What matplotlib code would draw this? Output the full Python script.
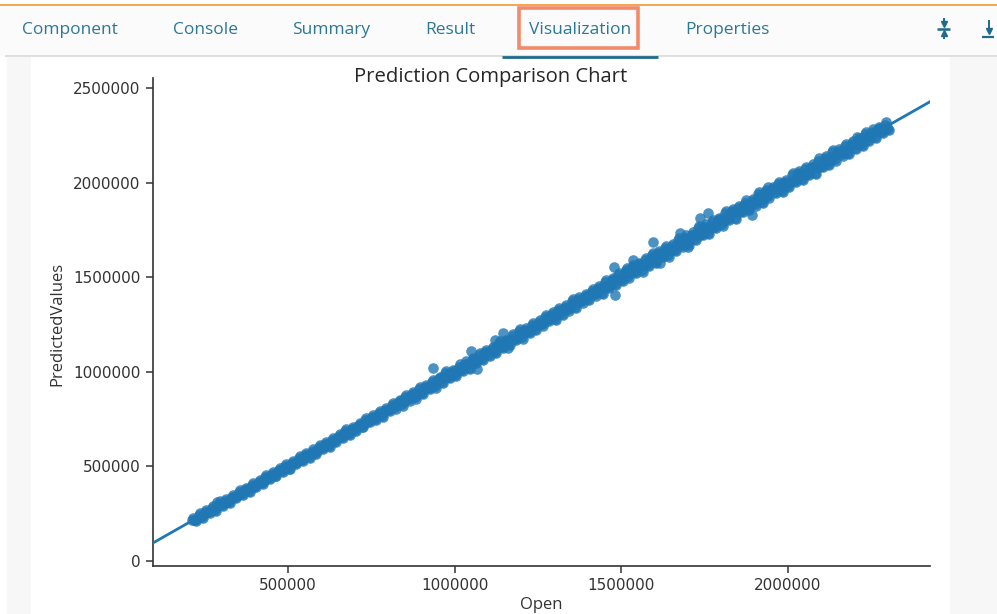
import numpy as np
import matplotlib
matplotlib.use("Agg")
import matplotlib.pyplot as plt
from matplotlib.patches import Rectangle
from matplotlib.lines import Line2D

# ---- data: Open price vs. model prediction -------------------------------
upper_open = [212000, 232000, 252000, 272000, 292000, 312000, 332000, 352000, 372000, 392000,
              412000, 432000, 452000, 472000, 492000, 512000, 532000, 552000, 572000, 592000,
              612000, 632000, 652000, 672000, 692000, 712000, 732000, 752000, 772000, 792000,
              812000, 832000, 852000, 872000, 892000, 912000, 932000, 952000, 972000, 992000,
              1012000, 1032000, 1052000, 1072000, 1092000, 1112000, 1132000, 1152000, 1172000, 1192000,
              1212000, 1232000, 1252000, 1272000, 1292000, 1312000, 1332000, 1352000, 1372000, 1392000,
              1412000, 1432000, 1452000, 1472000, 1492000, 1512000, 1532000, 1552000, 1572000, 1592000,
              1612000, 1632000, 1652000, 1672000, 1692000, 1712000, 1732000, 1752000, 1772000, 1792000,
              1812000, 1832000, 1852000, 1872000, 1892000, 1912000, 1932000, 1952000, 1972000, 1992000,
              2012000, 2032000, 2052000, 2072000, 2092000, 2112000, 2132000, 2152000, 2172000, 2192000,
              2212000, 2232000, 2252000, 2272000, 2292000]
upper_pred = [219000, 242000, 257000, 281000, 304000, 318000, 340000, 363000, 376000, 401000,
              419000, 445000, 458000, 482000, 500000, 517000, 543000, 561000, 579000, 604000,
              618000, 642000, 660000, 685000, 697000, 721000, 743000, 759000, 782000, 798000,
              824000, 840000, 867000, 882000, 910000, 921000, 946000, 963000, 992000, 999000,
              1028000, 1044000, 1061000, 1089000, 1105000, 1122000, 1151000, 1160000, 1187000, 1214000,
              1223000, 1246000, 1261000, 1290000, 1304000, 1328000, 1342000, 1373000, 1385000, 1400000,
              1429000, 1443000, 1476000, 1486000, 1511000, 1527000, 1554000, 1564000, 1590000, 1618000,
              1626000, 1652000, 1663000, 1696000, 1709000, 1725000, 1760000, 1768000, 1793000, 1802000,
              1837000, 1850000, 1866000, 1895000, 1904000, 1939000, 1951000, 1967000, 1994000, 2003000,
              2038000, 2049000, 2072000, 2085000, 2116000, 2128000, 2161000, 2164000, 2193000, 2210000,
              2226000, 2255000, 2269000, 2282000, 2307000]

lower_open = [222000, 242000, 262000, 282000, 302000, 322000, 342000, 362000, 382000, 402000,
              422000, 442000, 462000, 482000, 502000, 522000, 542000, 562000, 582000, 602000,
              622000, 642000, 662000, 682000, 702000, 722000, 742000, 762000, 782000, 802000,
              822000, 842000, 862000, 882000, 902000, 922000, 942000, 962000, 982000, 1002000,
              1022000, 1042000, 1062000, 1082000, 1102000, 1122000, 1142000, 1162000, 1182000, 1202000,
              1222000, 1242000, 1262000, 1282000, 1302000, 1322000, 1342000, 1362000, 1382000, 1402000,
              1422000, 1442000, 1462000, 1482000, 1502000, 1522000, 1542000, 1562000, 1582000, 1602000,
              1622000, 1642000, 1662000, 1682000, 1702000, 1722000, 1742000, 1762000, 1782000, 1802000,
              1822000, 1842000, 1862000, 1882000, 1902000, 1922000, 1942000, 1962000, 1982000, 2002000,
              2022000, 2042000, 2062000, 2082000, 2102000, 2122000, 2142000, 2162000, 2182000, 2202000,
              2222000, 2242000, 2262000, 2282000, 2302000]
lower_pred = [216000, 233000, 258000, 271000, 295000, 312000, 337000, 354000, 370000, 396000,
              413000, 438000, 452000, 474000, 489000, 517000, 535000, 551000, 573000, 596000,
              610000, 634000, 657000, 672000, 695000, 711000, 738000, 753000, 769000, 796000,
              812000, 828000, 854000, 865000, 890000, 913000, 923000, 949000, 975000, 986000,
              1011000, 1021000, 1053000, 1067000, 1090000, 1104000, 1132000, 1148000, 1174000, 1182000,
              1209000, 1225000, 1251000, 1273000, 1280000, 1307000, 1330000, 1344000, 1372000, 1386000,
              1409000, 1418000, 1451000, 1463000, 1488000, 1504000, 1530000, 1537000, 1567000, 1581000,
              1612000, 1615000, 1645000, 1669000, 1679000, 1703000, 1731000, 1736000, 1766000, 1780000,
              1808000, 1814000, 1850000, 1862000, 1885000, 1898000, 1927000, 1951000, 1957000, 1983000,
              2009000, 2020000, 2046000, 2053000, 2088000, 2101000, 2124000, 2150000, 2156000, 2185000,
              2199000, 2227000, 2242000, 2269000, 2286000]

middle_open = [217000, 237000, 257000, 277000, 297000, 317000, 337000, 357000, 377000, 397000,
               417000, 437000, 457000, 477000, 497000, 517000, 537000, 557000, 577000, 597000,
               617000, 637000, 657000, 677000, 697000, 717000, 737000, 757000, 777000, 797000,
               817000, 837000, 857000, 877000, 897000, 917000, 937000, 957000, 977000, 997000,
               1017000, 1037000, 1057000, 1077000, 1097000, 1117000, 1137000, 1157000, 1177000, 1197000,
               1217000, 1237000, 1257000, 1277000, 1297000, 1317000, 1337000, 1357000, 1377000, 1397000,
               1417000, 1437000, 1457000, 1477000, 1497000, 1517000, 1537000, 1557000, 1577000, 1597000,
               1617000, 1637000, 1657000, 1677000, 1697000, 1717000, 1737000, 1757000, 1777000, 1797000,
               1817000, 1837000, 1857000, 1877000, 1897000, 1917000, 1937000, 1957000, 1977000, 1997000,
               2017000, 2037000, 2057000, 2077000, 2097000, 2117000, 2137000, 2157000, 2177000, 2197000,
               2217000, 2237000, 2257000, 2277000, 2297000]
middle_pred = [219000, 234000, 261000, 276000, 300000, 313000, 338000, 355000, 382000, 394000,
               417000, 440000, 455000, 481000, 496000, 519000, 533000, 558000, 580000, 595000,
               621000, 634000, 657000, 679000, 696000, 720000, 733000, 758000, 775000, 801000,
               812000, 844000, 855000, 883000, 889000, 920000, 931000, 966000, 974000, 1002000,
               1010000, 1039000, 1065000, 1073000, 1103000, 1108000, 1138000, 1164000, 1172000, 1201000,
               1215000, 1245000, 1251000, 1280000, 1289000, 1322000, 1336000, 1366000, 1373000, 1403000,
               1410000, 1439000, 1454000, 1485000, 1492000, 1526000, 1531000, 1569000, 1574000, 1605000,
               1606000, 1642000, 1649000, 1687000, 1695000, 1724000, 1725000, 1761000, 1768000, 1808000,
               1812000, 1843000, 1847000, 1880000, 1890000, 1929000, 1933000, 1966000, 1966000, 1999000,
               2011000, 2047000, 2049000, 2082000, 2085000, 2124000, 2134000, 2168000, 2168000, 2201000,
               2211000, 2245000, 2255000, 2287000, 2292000]

inner_open = [227000, 247000, 267000, 287000, 307000, 327000, 347000, 367000, 387000, 407000,
              427000, 447000, 467000, 487000, 507000, 527000, 547000, 567000, 587000, 607000,
              627000, 647000, 667000, 687000, 707000, 727000, 747000, 767000, 787000, 807000,
              827000, 847000, 867000, 887000, 907000, 927000, 947000, 967000, 987000, 1007000,
              1027000, 1047000, 1067000, 1087000, 1107000, 1127000, 1147000, 1167000, 1187000, 1207000,
              1227000, 1247000, 1267000, 1287000, 1307000, 1327000, 1347000, 1367000, 1387000, 1407000,
              1427000, 1447000, 1467000, 1487000, 1507000, 1527000, 1547000, 1567000, 1587000, 1607000,
              1627000, 1647000, 1667000, 1687000, 1707000, 1727000, 1747000, 1767000, 1787000, 1807000,
              1827000, 1847000, 1867000, 1887000, 1907000, 1927000, 1947000, 1967000, 1987000, 2007000,
              2027000, 2047000, 2067000, 2087000, 2107000, 2127000, 2147000, 2167000, 2187000, 2207000,
              2227000, 2247000, 2267000, 2287000]
inner_pred = [224000, 249000, 266000, 291000, 305000, 328000, 343000, 370000, 386000, 409000,
              424000, 447000, 471000, 485000, 508000, 524000, 549000, 566000, 583000, 610000,
              625000, 648000, 671000, 684000, 709000, 726000, 750000, 765000, 788000, 804000,
              833000, 843000, 875000, 880000, 910000, 922000, 956000, 965000, 994000, 1001000,
              1031000, 1039000, 1068000, 1092000, 1104000, 1135000, 1141000, 1169000, 1178000, 1213000,
              1223000, 1250000, 1260000, 1296000, 1306000, 1332000, 1339000, 1371000, 1385000, 1414000,
              1422000, 1450000, 1458000, 1493000, 1504000, 1520000, 1557000, 1563000, 1595000, 1595000,
              1633000, 1638000, 1670000, 1676000, 1714000, 1722000, 1759000, 1759000, 1791000, 1797000,
              1836000, 1844000, 1878000, 1881000, 1912000, 1915000, 1955000, 1965000, 1997000, 2000000,
              2031000, 2038000, 2079000, 2082000, 2113000, 2116000, 2150000, 2159000, 2196000, 2203000,
              2238000, 2241000, 2274000, 2277000]

high_edge_open = [215000, 235000, 255000, 275000, 295000, 315000, 335000, 355000, 375000, 395000,
                  415000, 435000, 455000, 475000, 495000, 515000, 535000, 555000, 575000, 595000,
                  615000, 635000, 655000, 675000, 695000, 715000, 735000, 755000, 775000, 795000,
                  815000, 835000, 855000, 875000, 895000, 915000, 935000, 955000, 975000, 995000,
                  1015000, 1035000, 1055000, 1075000, 1095000, 1115000, 1135000, 1155000, 1175000, 1195000,
                  1215000, 1235000, 1255000, 1275000, 1295000, 1315000, 1335000, 1355000, 1375000, 1395000,
                  1415000, 1435000, 1455000, 1475000, 1495000, 1515000, 1535000, 1555000, 1575000, 1595000,
                  1615000, 1635000, 1655000, 1675000, 1695000, 1715000, 1735000, 1755000, 1775000, 1795000,
                  1815000, 1835000, 1855000, 1875000, 1895000, 1915000, 1935000, 1955000, 1975000, 1995000,
                  2015000, 2035000, 2055000, 2075000, 2095000, 2115000, 2135000, 2155000, 2175000, 2195000,
                  2215000, 2235000, 2255000, 2275000, 2295000]
high_edge_pred = [230000, 253000, 268000, 292000, 315000, 329000, 351000, 374000, 387000, 412000,
                  430000, 456000, 469000, 493000, 511000, 528000, 554000, 572000, 590000, 615000,
                  629000, 653000, 671000, 696000, 708000, 732000, 754000, 770000, 793000, 809000,
                  835000, 851000, 879000, 893000, 922000, 932000, 957000, 974000, 1003000, 1010000,
                  1040000, 1055000, 1072000, 1101000, 1116000, 1133000, 1163000, 1171000, 1198000, 1225000,
                  1234000, 1257000, 1272000, 1302000, 1315000, 1339000, 1353000, 1384000, 1396000, 1411000,
                  1440000, 1454000, 1486000, 1497000, 1522000, 1539000, 1566000, 1576000, 1602000, 1630000,
                  1638000, 1664000, 1675000, 1708000, 1721000, 1737000, 1772000, 1780000, 1805000, 1814000,
                  1849000, 1862000, 1878000, 1907000, 1916000, 1951000, 1963000, 1979000, 2006000, 2015000,
                  2050000, 2061000, 2084000, 2097000, 2128000, 2140000, 2173000, 2176000, 2205000, 2222000,
                  2238000, 2267000, 2281000, 2294000, 2319000]

low_edge_open = [225000, 245000, 265000, 285000, 305000, 325000, 345000, 365000, 385000, 405000,
                 425000, 445000, 465000, 485000, 505000, 525000, 545000, 565000, 585000, 605000,
                 625000, 645000, 665000, 685000, 705000, 725000, 745000, 765000, 785000, 805000,
                 825000, 845000, 865000, 885000, 905000, 925000, 945000, 965000, 985000, 1005000,
                 1025000, 1045000, 1065000, 1085000, 1105000, 1125000, 1145000, 1165000, 1185000, 1205000,
                 1225000, 1245000, 1265000, 1285000, 1305000, 1325000, 1345000, 1365000, 1385000, 1405000,
                 1425000, 1445000, 1465000, 1485000, 1505000, 1525000, 1545000, 1565000, 1585000, 1605000,
                 1625000, 1645000, 1665000, 1685000, 1705000, 1725000, 1745000, 1765000, 1785000, 1805000,
                 1825000, 1845000, 1865000, 1885000, 1905000, 1925000, 1945000, 1965000, 1985000, 2005000,
                 2025000, 2045000, 2065000, 2085000, 2105000, 2125000, 2145000, 2165000, 2185000, 2205000,
                 2225000, 2245000, 2265000, 2285000, 2305000]
low_edge_pred = [211000, 228000, 253000, 266000, 290000, 307000, 332000, 349000, 365000, 391000,
                 408000, 433000, 447000, 469000, 484000, 512000, 530000, 546000, 568000, 591000,
                 605000, 629000, 652000, 667000, 690000, 706000, 733000, 748000, 764000, 791000,
                 806000, 822000, 848000, 859000, 884000, 907000, 917000, 943000, 969000, 980000,
                 1005000, 1015000, 1047000, 1061000, 1084000, 1098000, 1126000, 1142000, 1168000, 1176000,
                 1203000, 1219000, 1245000, 1267000, 1274000, 1301000, 1324000, 1338000, 1366000, 1380000,
                 1403000, 1412000, 1445000, 1457000, 1482000, 1497000, 1523000, 1530000, 1560000, 1574000,
                 1605000, 1608000, 1638000, 1662000, 1672000, 1696000, 1724000, 1729000, 1759000, 1773000,
                 1801000, 1807000, 1843000, 1855000, 1878000, 1891000, 1920000, 1944000, 1950000, 1976000,
                 2002000, 2013000, 2039000, 2046000, 2081000, 2094000, 2117000, 2143000, 2149000, 2178000,
                 2192000, 2220000, 2235000, 2262000, 2279000]

outlier_open = [287000, 935000, 1049000, 1067000, 1121000, 1145000, 1160000, 1478000, 1482000, 1518000,
                1535000, 1596000, 1617000, 1677000, 1701000, 1737000, 1761000, 1893000, 1941000, 2208000]
outlier_pred = [312000, 1020000, 1110000, 1015000, 1168000, 1205000, 1126000, 1554000, 1406000, 1548000,
                1591000, 1686000, 1575000, 1733000, 1660000, 1813000, 1839000, 1829000, 1977000, 2241000]

y_ticks = [0, 500000, 1000000, 1500000, 2000000, 2500000]
x_ticks = [500000, 1000000, 1500000, 2000000]

open_vals = np.array(upper_open + lower_open + middle_open + inner_open
                     + high_edge_open + low_edge_open + outlier_open, dtype=float)
pred_vals = np.array(upper_pred + lower_pred + middle_pred + inner_pred
                     + high_edge_pred + low_edge_pred + outlier_pred, dtype=float)

# ---- figure -------------------------------------------------------------
W, H = 997, 614
fig = plt.figure(figsize=(W / 100, H / 100), dpi=100)
fig.patch.set_facecolor("white")


def fx(px):
    return px / W


def fy(py):
    return 1 - py / H


def rect(x0, y0, x1, y1, **kw):
    fig.add_artist(Rectangle((fx(x0), fy(y1)), fx(x1) - fx(x0), fy(y0) - fy(y1),
                             transform=fig.transFigure, **kw))


def seg(xs, ys, color, lw):
    fig.add_artist(Line2D([fx(v) for v in xs], [fy(v) for v in ys], transform=fig.transFigure,
                          color=color, lw=lw, solid_capstyle="butt"))


def mark(x, y, marker, color, size):
    fig.add_artist(Line2D([fx(x)], [fy(y)], transform=fig.transFigure, marker=marker,
                          markersize=size, color=color, lw=0))


# panel backgrounds
rect(0, 5, W, 56, facecolor="#fbfbfb", edgecolor="none")
rect(7, 57, 31, H, facecolor="#f7f7f7", edgecolor="none")
rect(950, 57, W, H, facecolor="#f7f7f7", edgecolor="none")
seg([0, W], [4.5, 4.5], "#f5a350", 1.4)
seg([5, W], [55.5, 55.5], "#d9d9d9", 1.2)
seg([502, 658], [56.5, 56.5], "#1f6b8c", 2.0)

# tab bar
tab_color = "#2b7896"
tabs = [("Component", 70), ("Console", 205), ("Summary", 331), ("Result", 450),
        ("Visualization", 580), ("Properties", 727)]
for label, cx in tabs:
    fig.text(fx(cx), fy(29.5), label, ha="center", va="center", color=tab_color,
             fontsize=12.5, family="Open Sans")
rect(519, 8.5, 638, 47.5, facecolor="none", edgecolor="#f38b6b", lw=2.6)

# toolbar icons: collapse and download
icon_c = "#1f6b8c"
seg([937, 950], [28.5, 28.5], icon_c, 1.8)
seg([943.5, 943.5], [18, 23], icon_c, 1.4)
mark(943.5, 24, "v", icon_c, 4.5)
seg([943.5, 943.5], [34, 39], icon_c, 1.4)
mark(943.5, 33, "^", icon_c, 4.5)
seg([982, 994], [36.5, 36.5], icon_c, 1.6)
seg([988.5, 988.5], [20, 30], icon_c, 1.4)
mark(988.5, 31, "v", icon_c, 4.5)

# ---- regression chart ---------------------------------------------------
ax = fig.add_axes([fx(153), fy(566), fx(930) - fx(153), fy(78) - fy(566)])
ax.set_facecolor("white")
c0 = "#1f77b4"
ax.scatter(open_vals, pred_vals, s=58, color=c0, alpha=0.8, linewidths=0, zorder=2)

xmin, xmax = 95000, 2427000
slope, intercept = np.polyfit(open_vals, pred_vals, 1)
grid = np.linspace(xmin, xmax, 100)
ax.plot(grid, slope * grid + intercept, color=c0, lw=2.0, zorder=3)

ax.set_xlim(xmin, xmax)
ax.set_ylim(-26000, 2553000)
ax.set_xticks(x_ticks)
ax.set_yticks(y_ticks)
ax.set_xticklabels([str(v) for v in x_ticks])
ax.set_yticklabels([str(v) for v in y_ticks])
for side in ("top", "right"):
    ax.spines[side].set_visible(False)
for side in ("left", "bottom"):
    ax.spines[side].set_color("#333333")
    ax.spines[side].set_linewidth(1.2)
ax.tick_params(axis="both", labelsize=11, colors="#333333", length=5, width=1.1, pad=4)

fig.text(fx(57), fy(324), "PredictedValues", rotation=90, ha="center", va="center",
         fontsize=12, color="#333333", family="Open Sans")
fig.text(fx(541), fy(605), "Open", ha="center", va="center", fontsize=12,
         color="#333333", family="Open Sans")
fig.text(fx(491), fy(77), "Prediction Comparison Chart", ha="center", va="center",
         fontsize=14.6, color="#262626", family="Open Sans")

fig.savefig("out.png", dpi=100)
